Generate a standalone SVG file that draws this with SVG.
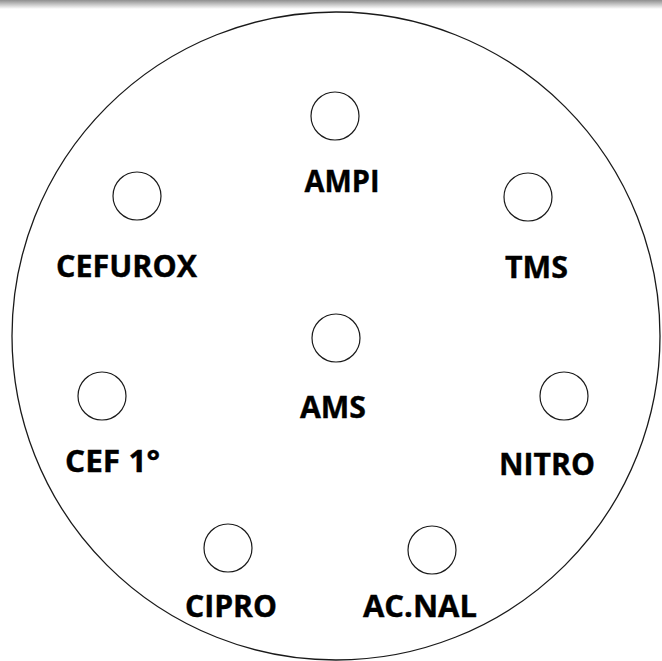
<svg xmlns="http://www.w3.org/2000/svg" width="662" height="661" viewBox="0 0 662 661">
<defs>
<linearGradient id="topbar" x1="0" y1="0" x2="0" y2="1">
<stop offset="0" stop-color="#8f8f8f"/>
<stop offset="1" stop-color="#ffffff"/>
</linearGradient>
</defs>
<style>
.disk{fill:none;stroke:#1a1a1a;stroke-width:1.3}
.well{fill:#fff;stroke:#1a1a1a;stroke-width:1.2}
.lbl{font-family:"Open Sans","Liberation Sans",Arial,sans-serif;font-weight:bold;font-size:31px;fill:#000;stroke:#000;stroke-width:0.4;text-anchor:middle}
</style>
<rect x="0" y="0" width="662" height="661" fill="#fff"/>
<rect x="0" y="0" width="662" height="9" fill="url(#topbar)"/>
<g id="plate"><circle class="disk" cx="336" cy="336" r="324"/></g>
<g id="connectors"></g>
<g id="AMPI"><circle class="well" cx="335" cy="116" r="24"/><text class="lbl" x="342" y="192" textLength="75" lengthAdjust="spacingAndGlyphs">AMPI</text></g>
<g id="CEFUROX"><circle class="well" cx="137" cy="196" r="24"/><text class="lbl" x="126.5" y="277" textLength="141" lengthAdjust="spacingAndGlyphs">CEFUROX</text></g>
<g id="TMS"><circle class="well" cx="528" cy="197" r="24"/><text class="lbl" x="536.5" y="278" textLength="63" lengthAdjust="spacingAndGlyphs">TMS</text></g>
<g id="AMS"><circle class="well" cx="336" cy="338" r="24"/><text class="lbl" x="333" y="418" textLength="66" lengthAdjust="spacingAndGlyphs">AMS</text></g>
<g id="CEF1"><circle class="well" cx="102" cy="396" r="24"/><text class="lbl" x="112.5" y="472" textLength="95" lengthAdjust="spacingAndGlyphs">CEF 1°</text></g>
<g id="NITRO"><circle class="well" cx="564" cy="396" r="24"/><text class="lbl" x="547" y="475" textLength="96" lengthAdjust="spacingAndGlyphs">NITRO</text></g>
<g id="CIPRO"><circle class="well" cx="228" cy="548" r="24"/><text class="lbl" x="231" y="617" textLength="92" lengthAdjust="spacingAndGlyphs">CIPRO</text></g>
<g id="ACNAL"><circle class="well" cx="432" cy="550" r="24"/><text class="lbl" x="420" y="617" textLength="114" lengthAdjust="spacingAndGlyphs">AC.NAL</text></g>
</svg>
